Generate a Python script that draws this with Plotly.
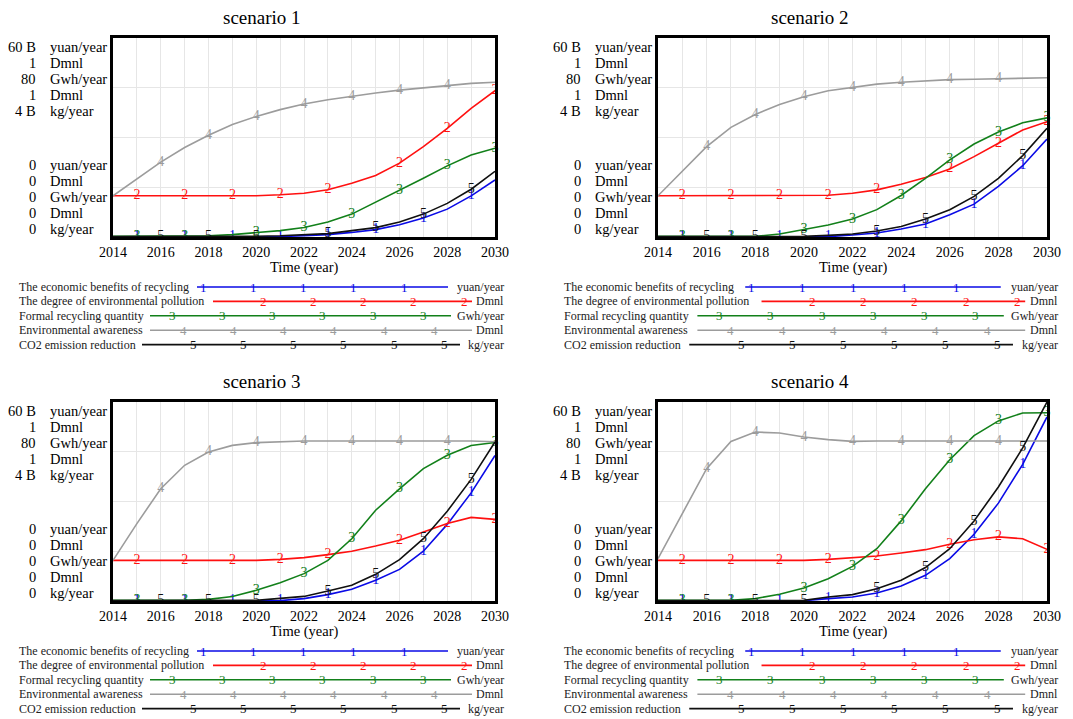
import plotly.graph_objects as go

W, H = 1073, 719
FONT = "Liberation Serif, Times New Roman, serif"

years = list(range(2014, 2031))
tick_years = list(range(2014, 2031, 2))

series_names = ["The economic benefits of recycling",
                "The degree of environmental pollution",
                "Formal recycling quantity",
                "Environmental awareness",
                "CO2 emission reduction"]
series_units = ["yuan/year", "Dmnl", "Gwh/year", "Dmnl", "kg/year"]
# axis maxima in stored units: billion yuan/year, Dmnl, Gwh/year, Dmnl, billion kg/year
scale_max = [60, 1, 80, 1, 4]
scale_max_labels = ["60 B", "1", "80", "1", "4 B"]
scale_min_labels = ["0", "0", "0", "0", "0"]
series_digits = ["1", "2", "3", "4", "5"]
series_colors = ["#0a0ae6", "#ff1010", "#12801a", "#9c9c9c", "#101010"]

marker_years = [
    [2015, 2017, 2019, 2021, 2023, 2025, 2027, 2029],
    [2015, 2017, 2019, 2021, 2023, 2026, 2028, 2030],
    [2015, 2017, 2020, 2022, 2024, 2026, 2028, 2030],
    [2016, 2018, 2020, 2022, 2024, 2026, 2028],
    [2016, 2018, 2020, 2023, 2025, 2027, 2029],
]

# ---------------- scenario 1 ----------------
s1_econ = [0.05, 0.05, 0.05, 0.06, 0.06, 0.07, 0.08, 0.1, 0.42, 0.72, 1.38, 2.22, 3.72, 5.7, 8.4, 12.4, 17.2]
s1_pollution = [0.207, 0.207, 0.207, 0.207, 0.207, 0.207, 0.207, 0.212, 0.22, 0.237, 0.27, 0.309, 0.371, 0.454, 0.546, 0.646, 0.735]
s1_recycling = [0.24, 0.24, 0.24, 0.32, 0.48, 0.96, 1.84, 2.56, 3.84, 6.0, 9.2, 13.9, 18.6, 23.6, 28.6, 33.0, 35.7]
s1_awareness = [0.207, 0.29, 0.376, 0.45, 0.511, 0.565, 0.606, 0.64, 0.668, 0.69, 0.708, 0.724, 0.738, 0.75, 0.761, 0.772, 0.778]
s1_co2 = [0.008, 0.008, 0.008, 0.008, 0.008, 0.012, 0.016, 0.024, 0.04, 0.068, 0.128, 0.188, 0.3, 0.46, 0.676, 0.96, 1.32]

# ---------------- scenario 2 ----------------
s2_econ = [0.05, 0.05, 0.05, 0.06, 0.06, 0.07, 0.08, 0.1, 0.6, 1.2, 2.4, 3.9, 6.72, 9.9, 15.24, 21.5, 29.5]
s2_pollution = [0.207, 0.207, 0.207, 0.207, 0.207, 0.207, 0.207, 0.21, 0.22, 0.237, 0.265, 0.299, 0.342, 0.404, 0.471, 0.538, 0.579]
s2_recycling = [0.24, 0.24, 0.24, 0.24, 0.24, 1.2, 2.96, 4.8, 7.2, 11.0, 16.7, 23.6, 31.0, 37.4, 42.2, 45.9, 47.9]
s2_awareness = [0.207, 0.329, 0.454, 0.551, 0.616, 0.666, 0.705, 0.735, 0.753, 0.768, 0.778, 0.785, 0.791, 0.793, 0.796, 0.8, 0.8]
s2_co2 = [0.008, 0.008, 0.008, 0.008, 0.008, 0.008, 0.012, 0.032, 0.06, 0.12, 0.212, 0.36, 0.548, 0.816, 1.18, 1.636, 2.184]

# ---------------- scenario 3 ----------------
s3_econ = [0.05, 0.05, 0.05, 0.06, 0.06, 0.07, 0.08, 0.1, 0.72, 1.92, 3.54, 6.24, 9.54, 15.0, 23.1, 32.6, 43.9]
s3_pollution = [0.204, 0.204, 0.204, 0.204, 0.204, 0.204, 0.204, 0.209, 0.218, 0.233, 0.25, 0.276, 0.305, 0.347, 0.389, 0.42, 0.41]
s3_recycling = [0.24, 0.24, 0.24, 0.24, 0.64, 1.84, 4.32, 7.36, 11.0, 16.3, 25.0, 36.5, 45.1, 53.2, 58.6, 62.5, 63.7]
s3_awareness = [0.204, 0.389, 0.564, 0.682, 0.749, 0.782, 0.796, 0.8, 0.804, 0.804, 0.804, 0.804, 0.804, 0.804, 0.804, 0.804, 0.8]
s3_co2 = [0.008, 0.008, 0.008, 0.008, 0.008, 0.008, 0.012, 0.052, 0.092, 0.2, 0.316, 0.536, 0.832, 1.252, 1.804, 2.444, 3.196]

# ---------------- scenario 4 ----------------
s4_econ = [0.05, 0.05, 0.05, 0.06, 0.06, 0.07, 0.1, 0.72, 1.2, 2.4, 4.5, 7.74, 12.8, 20.1, 29.5, 41.2, 55.5]
s4_pollution = [0.204, 0.204, 0.204, 0.204, 0.204, 0.204, 0.204, 0.209, 0.216, 0.226, 0.241, 0.258, 0.285, 0.308, 0.322, 0.313, 0.26]
s4_recycling = [0.24, 0.24, 0.24, 0.24, 0.96, 2.72, 5.2, 8.96, 13.9, 21.0, 32.2, 45.1, 56.8, 66.5, 72.4, 75.6, 75.7]
s4_awareness = [0.213, 0.439, 0.665, 0.802, 0.849, 0.844, 0.824, 0.811, 0.802, 0.804, 0.804, 0.804, 0.804, 0.804, 0.804, 0.804, 0.804]
s4_co2 = [0.008, 0.008, 0.008, 0.008, 0.008, 0.008, 0.012, 0.08, 0.128, 0.248, 0.416, 0.672, 1.052, 1.608, 2.292, 3.076, 4.0]

scenarios = [
    ("scenario 1", [s1_econ, s1_pollution, s1_recycling, s1_awareness, s1_co2]),
    ("scenario 2", [s2_econ, s2_pollution, s2_recycling, s2_awareness, s2_co2]),
    ("scenario 3", [s3_econ, s3_pollution, s3_recycling, s3_awareness, s3_co2]),
    ("scenario 4", [s4_econ, s4_pollution, s4_recycling, s4_awareness, s4_co2]),
]

# panel geometry in pixels
panels = [
    dict(left=113, right=495, top=38, bottom=237, title_x=262, leg_x0=17, leg_s=1.0),
    dict(left=658, right=1047, top=38, bottom=237, title_x=810, leg_x0=562, leg_s=1.018),
    dict(left=113, right=495, top=402, bottom=601, title_x=262, leg_x0=17, leg_s=1.0),
    dict(left=658, right=1047, top=402, bottom=601, title_x=810, leg_x0=562, leg_s=1.018),
]

# legend layout relative to name start (pixels)
leg_lines = [(180, 431), (196, 455), (133, 434), (133, 455), (125, 443)]
leg_first_digit = [186, 246, 155, 166, 176]
leg_digit_count = [5, 5, 6, 6, 6]
leg_digit_step = 50.3
leg_unit_right = 489


def px(x):
    return x / W


def py(y):
    return 1 - y / H


fig = go.Figure()
annotations = []
shapes = []
layout_axes = {}

for k, ((title, data), p) in enumerate(zip(scenarios, panels)):
    n = k + 1
    xa = "x" if n == 1 else f"x{n}"
    ya = "y" if n == 1 else f"y{n}"
    for i in range(5):
        norm = [v / scale_max[i] for v in data[i]]
        fig.add_trace(go.Scatter(
            x=years, y=norm, mode="lines", xaxis=xa, yaxis=ya,
            line=dict(color=series_colors[i], width=1.6), showlegend=False,
            hoverinfo="skip"))
        mx = marker_years[i]
        my = [norm[years.index(yr)] for yr in mx]
        fig.add_trace(go.Scatter(
            x=mx, y=my, mode="text", text=[series_digits[i]] * len(mx),
            textposition="middle center", xaxis=xa, yaxis=ya, cliponaxis=False,
            textfont=dict(family=FONT, size=14, color=series_colors[i]),
            showlegend=False, hoverinfo="skip"))

    xkey = "xaxis" if n == 1 else f"xaxis{n}"
    ykey = "yaxis" if n == 1 else f"yaxis{n}"
    layout_axes[xkey] = dict(
        domain=[px(p["left"]), px(p["right"])], anchor=ya, range=[2014, 2030],
        tickvals=years, ticktext=[str(y) if y in tick_years else "" for y in years],
        ticks="", showgrid=True, gridcolor="#e6e6e6", gridwidth=1,
        showline=True, mirror=True, linecolor="black", linewidth=3,
        zeroline=False, automargin=False,
        tickfont=dict(family=FONT, size=14, color="black"))
    layout_axes[ykey] = dict(
        domain=[py(p["bottom"]), py(p["top"])], anchor=xa, range=[0, 1],
        tickvals=[0, 0.25, 0.5, 0.75, 1], showticklabels=False, ticks="",
        showgrid=True, gridcolor="#e6e6e6", gridwidth=1, automargin=False,
        showline=True, mirror=True, linecolor="black", linewidth=3, zeroline=False)

    # title
    annotations.append(dict(x=px(p["title_x"]), y=py(p["top"] - 20.5), xref="paper", yref="paper",
                            text=title, showarrow=False, xanchor="center", yanchor="middle",
                            font=dict(family=FONT, size=19, color="black")))
    # x-axis title
    annotations.append(dict(x=px((p["left"] + p["right"]) / 2), y=py(p["bottom"] + 30),
                            xref="paper", yref="paper", text="Time (year)", showarrow=False,
                            xanchor="center", yanchor="middle",
                            font=dict(family=FONT, size=14.5, color="black")))
    # left scale labels
    for i in range(5):
        for lab, off in ((scale_max_labels[i], 9 + 16 * i), (scale_min_labels[i], 127 + 16 * i)):
            yy = py(p["top"] + off)
            annotations.append(dict(x=px(p["left"] - 75), y=yy, xref="paper", yref="paper",
                                    text=lab, showarrow=False, xanchor="right", yanchor="middle",
                                    font=dict(family=FONT, size=14.5, color="black")))
            annotations.append(dict(x=px(p["left"] - 65), y=yy, xref="paper", yref="paper",
                                    text=series_units[i], showarrow=False, xanchor="left",
                                    yanchor="middle",
                                    font=dict(family=FONT, size=14.5, color="black")))
    # legend
    x0, s = p["leg_x0"], p["leg_s"]
    for i in range(5):
        yrow = p["bottom"] + 50 + 14.4 * i
        annotations.append(dict(x=px(x0), y=py(yrow), xref="paper", yref="paper",
                                text=series_names[i], showarrow=False, xanchor="left",
                                yanchor="middle", font=dict(family=FONT, size=12, color="#222")))
        annotations.append(dict(x=px(x0 + s * leg_unit_right), y=py(yrow), xref="paper",
                                yref="paper", text=series_units[i], showarrow=False,
                                xanchor="right", yanchor="middle",
                                font=dict(family=FONT, size=12, color="#222")))
        a, b = leg_lines[i]
        shapes.append(dict(type="line", xref="paper", yref="paper",
                           x0=px(x0 + s * a), x1=px(x0 + s * b), y0=py(yrow), y1=py(yrow),
                           line=dict(color=series_colors[i], width=1.6)))
        for j in range(leg_digit_count[i]):
            dx = x0 + s * (leg_first_digit[i] + leg_digit_step * j)
            annotations.append(dict(x=px(dx), y=py(yrow), xref="paper", yref="paper",
                                    text=series_digits[i], showarrow=False, xanchor="center",
                                    yanchor="middle",
                                    font=dict(family=FONT, size=13, color=series_colors[i])))

fig.update_layout(
    width=W, height=H, margin=dict(l=0, r=0, t=0, b=0, pad=0), autosize=False,
    paper_bgcolor="white", plot_bgcolor="white",
    annotations=annotations, shapes=shapes, showlegend=False,
    **layout_axes)

fig.write_html("out.html", config={"responsive": False, "displayModeBar": False},
               post_script="document.body.style.margin='0';document.body.style.overflow='hidden';")
